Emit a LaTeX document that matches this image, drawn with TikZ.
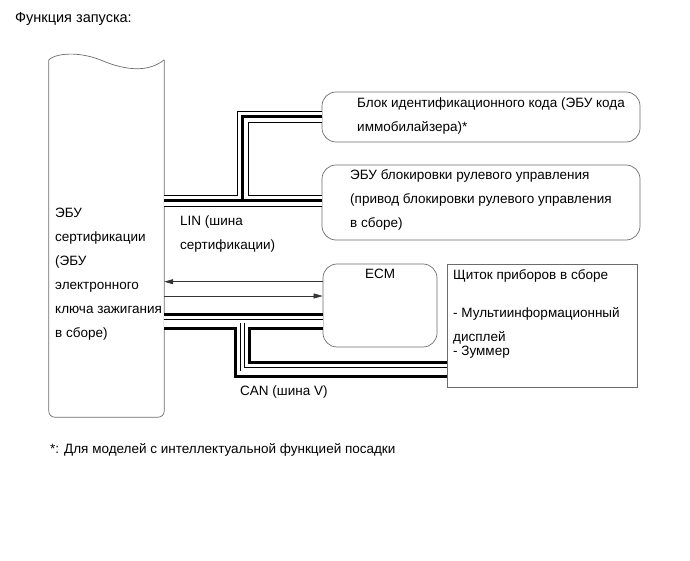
\documentclass[tikz,border=0pt]{standalone}
\usepackage{fontspec}
\setmainfont{Liberation Sans}
\usetikzlibrary{arrows.meta, positioning}

\begin{document}
\begin{tikzpicture}[x=1pt, y=-1pt, font=\fontsize{13.5}{24}\selectfont,
	frame/.style={draw=gray!85!black, line width=0.7pt},
	unit/.style={frame, rounded corners=14pt, inner sep=0pt},
	txt/.style={inner sep=0pt, anchor=north west, align=left},
	sig/.style={draw=black!80, line width=0.6pt, -{Triangle[length=9pt, width=5pt]}}]
	\useasboundingbox (0,0) rectangle (690,561);
	\node[txt, font=\fontsize{14.5}{18}\selectfont] (title) at (15,12.5) {Функция запуска:};
	% units
	\node[inner sep=0pt, minimum width=115, minimum height=357] (ecu) at (106.5,238.5) {};
	\node[unit, minimum width=318, minimum height=50] (immo) at (481,117) {};
	\node[unit, minimum width=318, minimum height=75] (lock) at (481,202.5) {};
	\node[unit, minimum width=114, minimum height=83] (ecm) at (380,305.5) {};
	\node[frame, inner sep=0pt, minimum width=190, minimum height=123] (meter) at (542,325.5) {};
	\draw[frame, rounded corners=6pt] (ecu.north east) -- (ecu.south east) -- (ecu.south west) -- (ecu.north west);
	\draw[frame] (ecu.north west) .. controls (56,53) and (80,51) .. (103,61) .. controls (125,70) and (148,73) .. (ecu.north east);
	% texts
	\node[txt] (ecutxt) at (55,208) {ЭБУ\\сертификации\\(ЭБУ\\электронного\\ключа зажигания\\в сборе)};
	\node[txt] (immotxt) at (357,98) {Блок идентификационного кода (ЭБУ кода\\иммобилайзера)*};
	\node[txt] (locktxt) at (350,169) {ЭБУ блокировки рулевого управления\\(привод блокировки рулевого управления\\в сборе)};
	\node[inner sep=0pt, anchor=north] (ecmtxt) at (380,269) {ECM};
	\node[txt] (metertxt) at (453,269) {Щиток приборов в сборе\\[14pt]- Мультиинформационный\\дисплей\\[-10pt]- Зуммер};
	\node[txt] (lintxt) at (180,216) {LIN (шина\\сертификации)};
	\node[txt] (cantxt) at (240,386) {CAN (шина V)};
	\node[txt] (note) at (50,443) {*: Для моделей с интеллектуальной функцией посадки};
	% buses
	\coordinate (lin) at (242.5,200.7);
	\coordinate (can) at (242.5,321.2);
	\coordinate (canb) at (242.5,369.2);
	\foreach \w/\c in {12/black, 10/white, 3/black}
		\draw[line width=\w pt, \c] (ecu.east |- lin) -- (lock.west |- lin) (lin) |- (immo.west);
	\foreach \w/\c in {17.4/black, 11.4/white, 4.2/black, 2.6/white}
		\draw[line width=\w pt, \c] (ecu.east |- can) -- (ecm.west |- can) (can) -- (canb) -- (meter.west |- canb);
	% signal lines
	\draw[sig] ([yshift=23.8pt]ecm.west) -- ([yshift=23.8pt]ecm.west -| ecu.east);
	\draw[sig] ([yshift=9.5pt]ecm.west -| ecu.east) -- ([yshift=9.5pt]ecm.west);
\end{tikzpicture}
\end{document}
